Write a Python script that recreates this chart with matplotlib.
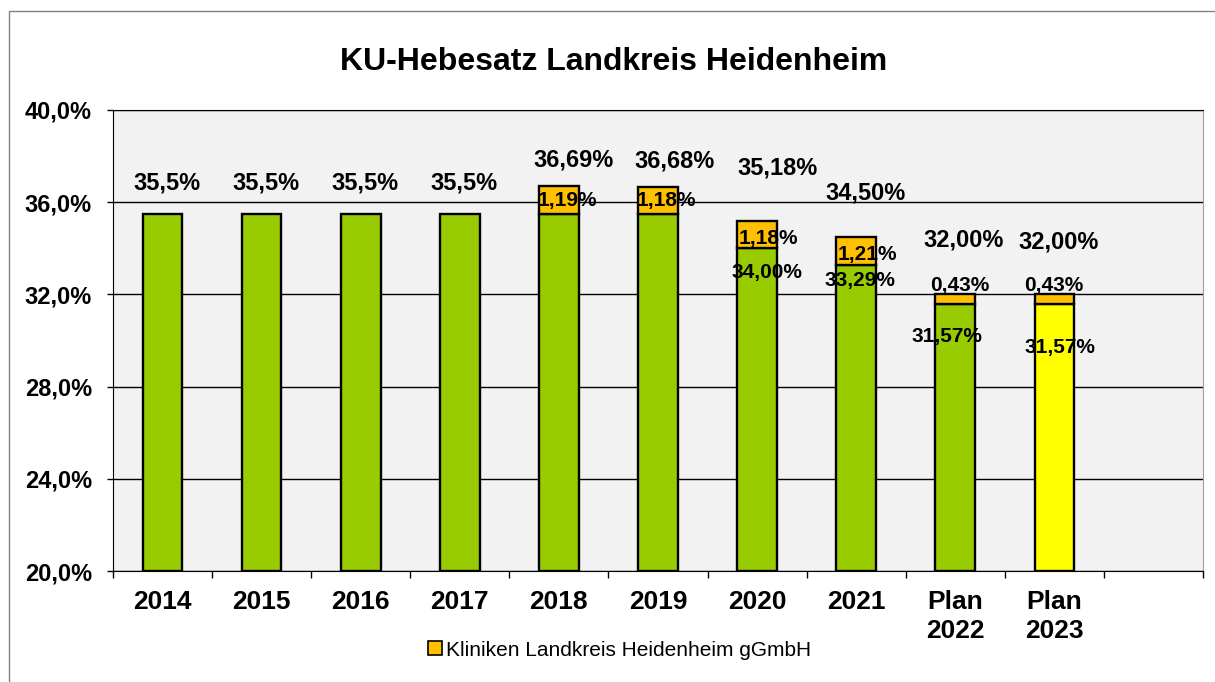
import matplotlib.pyplot as plt
from matplotlib.patches import Rectangle, Patch
from matplotlib.ticker import FuncFormatter

plt.rcParams['font.family'] = ['Liberation Sans', 'DejaVu Sans']

# data
categories = ['2014', '2015', '2016', '2017', '2018', '2019', '2020', '2021', 'Plan\n2022', 'Plan\n2023']
basis = [35.5, 35.5, 35.5, 35.5, 35.5, 35.5, 34.00, 33.29, 31.57, 31.57]
kliniken = [0, 0, 0, 0, 1.19, 1.18, 1.18, 1.21, 0.43, 0.43]
total_labels = ['35,5%', '35,5%', '35,5%', '35,5%', '36,69%', '36,68%', '35,18%', '34,50%', '32,00%', '32,00%']
basis_labels = ['', '', '', '', '', '', '34,00%', '33,29%', '31,57%', '31,57%']
kliniken_labels = ['', '', '', '', '1,19%', '1,18%', '1,18%', '1,21%', '0,43%', '0,43%']

# label placement (pixel offsets, as in the original Excel chart)
total_off = [(4, 31), (4, 31), (4, 31), (4, 31), (15, 26), (17, 26), (20, 53), (9, 44), (8, 54), (4, 52)]
basis_off = [(0, 0)] * 6 + [(10, -24), (4, -16), (-8, -32), (6, -43)]
kliniken_off = [(0, 0)] * 4 + [(8, 0), (8, 0), (11, -4), (11, -4), (4, 14), (-1, 14)]

green = '#99CC00'
orange = '#FFC000'
yellow = '#FFFF00'
base_colors = [green] * 9 + [yellow]

fig = plt.figure(figsize=(12.15, 6.82), dpi=100)
ax = fig.add_axes([113 / 1215, 1 - 571 / 682, 1090 / 1215, 461 / 682])
ax.set_facecolor('#F2F2F2')

# outer chart border
fig.patches.append(Rectangle((9 / 1215, -0.05), 1.2, 1 - 11 / 682 + 0.05, transform=fig.transFigure,
                             fill=False, edgecolor='#808080', linewidth=1))

x = list(range(len(categories)))
ax.bar(x, [b - 20 for b in basis], bottom=20, width=0.4, color=base_colors,
       edgecolor='black', linewidth=1.7, zorder=3)
for i in x:
    if kliniken[i] > 0:
        ax.bar(i, kliniken[i], bottom=basis[i], width=0.4, color=orange,
               edgecolor='black', linewidth=1.7, zorder=3)

lab = dict(ha='center', va='center', fontweight='bold', textcoords='offset pixels', zorder=5)
for i in x:
    top = basis[i] + kliniken[i]
    ax.annotate(total_labels[i], (i, top), xytext=total_off[i], fontsize=17, **lab)
    if basis_labels[i]:
        ax.annotate(basis_labels[i], (i, basis[i]), xytext=basis_off[i], fontsize=15, **lab)
    if kliniken_labels[i]:
        ax.annotate(kliniken_labels[i], (i, basis[i] + kliniken[i] / 2), xytext=kliniken_off[i],
                    fontsize=15, **lab)

ax.set_ylim(20, 40)
ax.set_xlim(-0.5, 10.5)
ax.set_yticks([20, 24, 28, 32, 36, 40])
ax.yaxis.set_major_formatter(FuncFormatter(lambda v, p: f'{v:.1f}%'.replace('.', ',')))
ax.yaxis.grid(True, color='black', linewidth=1)
ax.set_axisbelow(True)
ax.tick_params(axis='y', length=4.3, width=1, pad=11, labelsize=17)
for t in ax.get_yticklabels():
    t.set_fontweight('bold')

# category boundary ticks, labels at centres
ax.set_xticks([i - 0.5 for i in range(12)])
ax.set_xticklabels([])
ax.tick_params(axis='x', which='major', length=5, width=1, direction='out', color='black')
ax.set_xticks(x, minor=True)
ax.set_xticklabels(categories, minor=True, fontsize=19, fontweight='bold', linespacing=1.25)
ax.tick_params(axis='x', which='minor', length=0, pad=14)
for t in ax.get_xticklabels(minor=True):
    t.set_verticalalignment('top')

for side in ['left', 'bottom', 'top']:
    ax.spines[side].set_color('black')
ax.spines['right'].set_color('#A0A0A0')

fig.text(0.505, 1 - 62 / 682, 'KU-Hebesatz Landkreis Heidenheim', ha='center', va='center',
         fontsize=23, fontweight='bold')

handle = Patch(facecolor=orange, edgecolor='black', linewidth=1.2)
fig.legend([handle], ['Kliniken Landkreis Heidenheim gGmbH'], loc='center',
           bbox_to_anchor=(0.51, 1 - 650 / 682), frameon=False, fontsize=15,
           handlelength=0.65, handleheight=0.65, handletextpad=0.2)

fig.savefig('out.png', dpi=100)
